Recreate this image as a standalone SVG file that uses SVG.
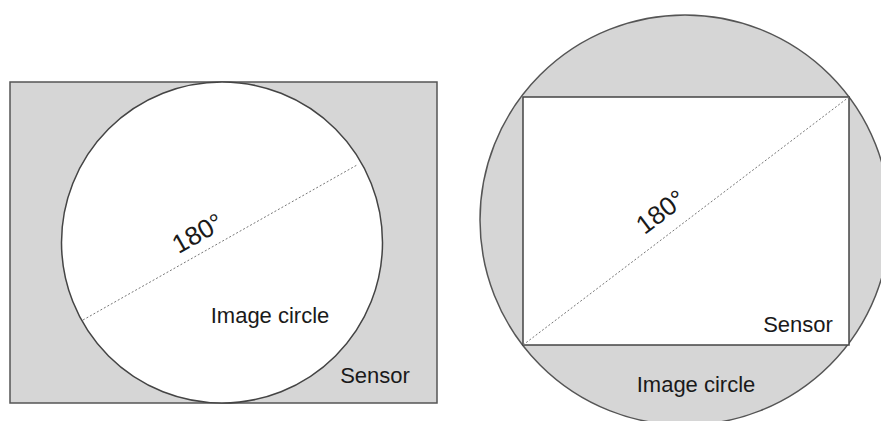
<svg xmlns="http://www.w3.org/2000/svg" width="881" height="421" viewBox="0 0 881 421">
<style>
.shade{fill:#d6d6d6;stroke:#555;stroke-width:1.5}
.clear{fill:#fff;stroke:#444;stroke-width:1.5}
.diag{stroke:#777;stroke-width:1;stroke-dasharray:2 2;fill:none}
.big{font-family:"Liberation Sans",Arial,sans-serif;font-size:26px;fill:#1a1a1a}
.lbl{font-family:"Liberation Sans",Arial,sans-serif;font-size:22px;fill:#1a1a1a}
</style>
<rect width="881" height="421" fill="#fff"/>
<g id="left-sensor"><rect class="shade" x="10" y="82" width="427" height="321"/></g>
<g id="left-circle"><circle class="clear" cx="222" cy="242.5" r="160.5"/></g>
<g id="right-circle"><circle class="shade" cx="685" cy="220" r="205"/></g>
<g id="right-sensor"><rect class="clear" x="523" y="97" width="326" height="248"/></g>
<g id="connectors">
<line class="diag" x1="83" y1="320" x2="357" y2="165"/>
<line class="diag" x1="523" y1="345" x2="849" y2="97"/>
</g>
<g id="labels">
<text class="big" transform="translate(202,241) rotate(-29.5)" text-anchor="middle">180°</text>
<text class="lbl" x="270" y="323" text-anchor="middle">Image circle</text>
<text class="lbl" x="375" y="383" text-anchor="middle">Sensor</text>
<text class="big" transform="translate(666,219) rotate(-37)" text-anchor="middle">180°</text>
<text class="lbl" x="798" y="332" text-anchor="middle">Sensor</text>
<text class="lbl" x="696" y="392" text-anchor="middle">Image circle</text>
</g>
</svg>
